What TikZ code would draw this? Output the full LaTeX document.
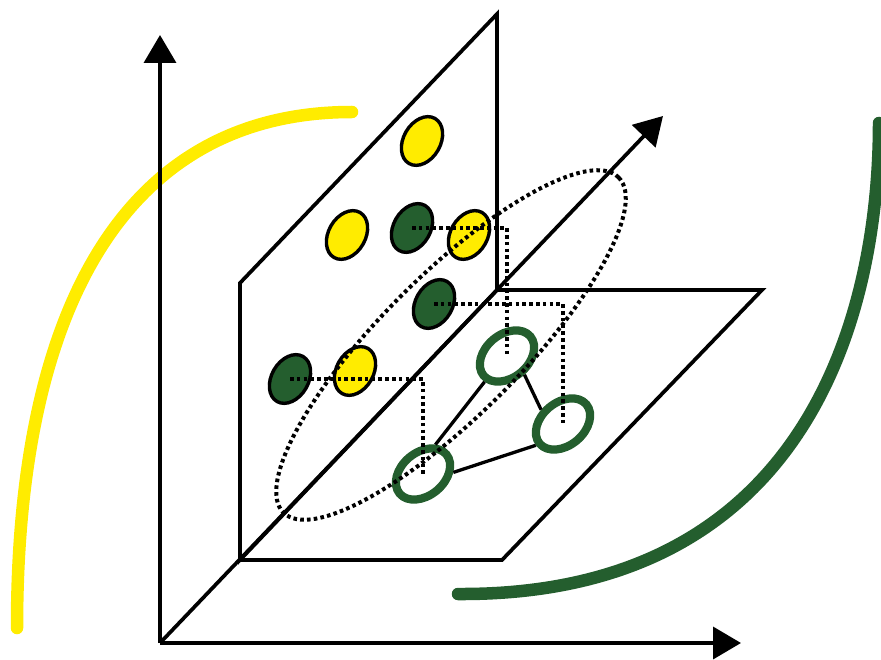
\documentclass[tikz,border=0pt]{standalone}
\usetikzlibrary{arrows.meta,shapes.geometric}
\definecolor{ylw}{RGB}{255,236,0}
\definecolor{dgr}{RGB}{36,94,46}
\begin{document}
\begin{tikzpicture}[x=1pt,y=-1pt,
  edge/.style={line width=3.7pt, line join=miter},
  axis/.style={line width=3.7pt, -{Triangle[length=28pt,width=32pt]}},
  dotbase/.style={ellipse, draw=black, line width=3.4pt, minimum width=52pt, minimum height=37pt, inner sep=0pt, rotate=60},
  ydot/.style={dotbase, fill=ylw},
  gdot/.style={dotbase, fill=dgr},
  ring/.style={ellipse, draw=dgr, line width=8.2pt, minimum width=61pt, minimum height=43pt, inner sep=0pt, rotate=40},
  proj/.style={line width=4pt, dash pattern=on 3.6pt off 3.2pt},
  link/.style={line width=3.3pt},
  curve/.style={line width=12.5pt, line cap=round}
]
\useasboundingbox (0,0) rectangle (881,660);
% curves
\draw[curve, ylw] (17,628) .. controls (17,300) and (130,112) .. (352,112);
\draw[curve, dgr] (879,123) .. controls (879,312) and (809,596) .. (458,594);
% planes
\coordinate (O) at (160,643);
\coordinate (W1) at (240,560);
\coordinate (W2) at (240,283);
\coordinate (W3) at (497,14);
\coordinate (W4) at (497,290);
\coordinate (F2) at (502,560);
\coordinate (F3) at (762,290);
\draw[edge] (W4) -- (W1) -- (W2) -- (W3) -- cycle;
\draw[edge] (W1) -- (F2) -- (F3) -- (W4);
% axes
\coordinate (Ytip) at (160,35);
\coordinate (Xtip) at (741,643);
\coordinate (Ztip) at (663,116);
\draw[axis] (O) -- (Ytip);
\draw[axis] (O) -- (Xtip);
\draw[axis] (O) -- (Ztip);
% dots on the wall
\node[ydot] (y1) at (422,141) {};
\node[ydot] (y2) at (347,235) {};
\node[gdot] (g1) at (412,228) {};
\node[ydot] (y3) at (469,235) {};
\node[gdot] (g2) at (434,304) {};
\node[gdot] (g3) at (290,379) {};
\node[ydot] (y4) at (355,371) {};
% rings on the floor
\node[ring] (rA) at (507,356) {};
\node[ring] (rB) at (563,424) {};
\node[ring] (rC) at (423,474) {};
% big dotted ellipse
\node[ellipse, draw, proj, minimum width=474pt, minimum height=140pt, inner sep=0pt, rotate=45] (E) at (451,345) {};
% projection lines
\draw[proj] (g1.center) -- (g1.center -| rA.center) -- (rA.center);
\draw[proj] (g2.center) -- (g2.center -| rB.center) -- (rB.center);
\draw[proj] (g3.center) -- (g3.center -| rC.center) -- (rC.center);
% links
\draw[link] (rA.-87) -- (rB.107);
\draw[link] (rA.189) -- (rC.27);
\draw[link] (rB.178) -- (rC.-37);
\end{tikzpicture}
\end{document}
